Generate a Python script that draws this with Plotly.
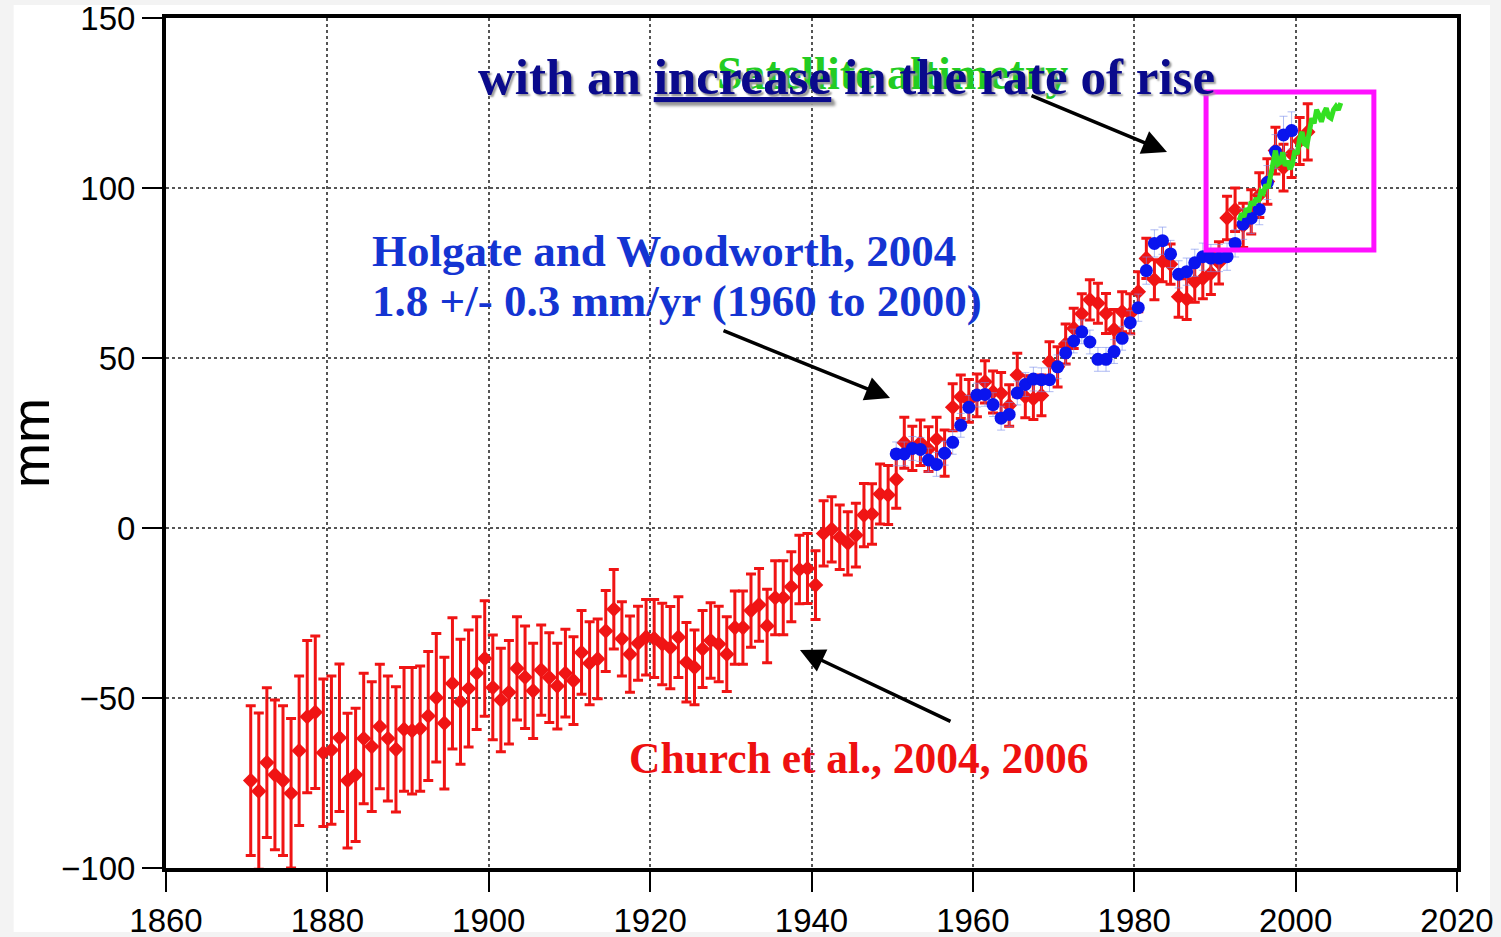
import plotly.graph_objects as go

# Tide-gauge reconstruction (Church et al.), annual means, mm
church_years = list(range(1870, 2002))
church_mm = [
    -74.3, -77.4, -69.0, -72.6, -74.3, -78.0, -65.5, -55.5, -54.2, -66.1,
    -65.3, -61.7, -74.3, -72.6, -61.9, -64.3, -58.4, -61.9, -65.1, -59.2,
    -59.6, -59.0, -55.3, -49.9, -57.4, -45.7, -51.1, -47.2, -42.7, -38.4,
    -46.9, -50.6, -48.3, -41.3, -43.9, -47.9, -41.8, -44.0, -46.5, -42.7,
    -44.9, -36.6, -39.8, -38.5, -30.3, -23.9, -32.6, -37.1, -33.9, -32.1,
    -32.5, -34.1, -35.2, -32.1, -39.5, -41.0, -35.6, -33.1, -34.1, -37.1,
    -29.3, -29.3, -24.3, -22.6, -28.8, -20.5, -20.5, -17.3, -12.2, -11.9,
    -16.8, -1.6, -0.4, -2.7, -4.5, -2.1, 3.8, 4.1, 10.0, 9.7,
    14.3, 25.1, 23.4, 25.1, 23.2, 26.1, 22.0, 35.5, 38.6, 37.4,
    39.0, 43.0, 40.0, 39.6, 36.0, 45.0, 38.6, 38.0, 39.0, 48.9,
    47.4, 54.1, 58.7, 63.0, 67.1, 66.1, 63.1, 58.4, 63.6, 63.0,
    69.5, 79.3, 73.0, 78.3, 77.6, 68.0, 67.3, 72.4, 73.4, 74.9,
    78.0, 91.2, 93.6, 89.0, 93.0, 97.9, 101.9, 111.0, 106.0, 110.0,
    113.8, 116.5,
]
church_err = [
    22.0, 23.0, 22.0, 22.0, 22.0, 22.0, 22.0, 22.4, 22.4, 21.7,
    21.8, 21.7, 19.8, 19.6, 19.2, 19.1, 18.3, 18.4, 18.4, 18.2,
    18.6, 18.4, 19.0, 18.9, 19.4, 19.3, 18.4, 17.2, 16.6, 17.0,
    15.4, 15.2, 15.2, 15.2, 15.1, 14.0, 13.3, 13.2, 12.6, 12.9,
    12.9, 12.3, 12.2, 11.7, 11.9, 11.7, 10.9, 11.2, 10.9, 11.1,
    11.5, 12.0, 12.1, 11.9, 11.7, 11.0, 11.3, 11.1, 11.1, 11.0,
    10.8, 10.8, 10.8, 10.7, 10.8, 10.9, 10.9, 10.3, 10.1, 10.3,
    10.1, 9.6, 9.6, 9.5, 9.3, 9.4, 9.3, 8.9, 8.8, 8.7,
    8.5, 7.5, 6.5, 6.7, 6.6, 6.5, 6.8, 6.9, 6.4, 6.3,
    6.3, 6.2, 6.2, 6.1, 6.1, 6.4, 6.2, 6.1, 6.0, 5.9,
    5.9, 5.9, 5.9, 5.9, 5.9, 5.9, 5.9, 5.9, 5.9, 5.9,
    5.9, 5.9, 5.9, 5.9, 5.9, 6.0, 6.0, 6.0, 6.0, 6.2,
    6.2, 6.4, 6.4, 6.5, 6.5, 6.6, 6.7, 6.9, 6.9, 6.9,
    6.9, 8.3,
]

# Holgate and Woodworth (2004) reconstruction, mm
hw_years = list(range(1950, 2000))
hw_mm = [
    21.8, 21.8, 23.4, 23.1, 20.0, 18.7, 22.0, 25.2, 30.2, 35.5,
    39.1, 39.3, 36.3, 32.3, 33.4, 39.7, 42.2, 43.8, 43.6, 43.6,
    47.4, 51.5, 55.0, 57.7, 54.7, 49.6, 49.6, 51.9, 55.8, 60.4,
    64.8, 75.7, 83.7, 84.5, 80.6, 74.6, 75.4, 78.0, 79.8, 79.4,
    79.4, 79.8, 83.7, 89.4, 91.1, 93.7, 101.6, 110.7, 115.6, 116.9,
]
hw_err = [
    3.5, 3.5, 3.5, 3.5, 3.5, 3.5, 3.5, 3.5, 3.5, 3.5,
    3.5, 3.5, 3.5, 3.5, 3.5, 3.5, 3.5, 3.5, 3.5, 3.5,
    3.5, 3.5, 3.5, 3.5, 3.5, 3.5, 3.5, 3.5, 3.5, 3.5,
    4.0, 4.0, 4.0, 4.0, 4.0, 4.0, 4.0, 4.0, 4.0, 4.0,
    4.0, 4.0, 4.0, 4.5, 4.5, 4.5, 5.0, 5.0, 5.5, 5.5,
]

# Satellite altimetry (TOPEX/Poseidon, Jason-1), mm
sat_time = [
    1993.0, 1993.3, 1993.6, 1993.9, 1994.2, 1994.5, 1994.8, 1995.1, 1995.4, 1995.7,
    1996.0, 1996.3, 1996.6, 1996.9, 1997.2, 1997.5, 1997.8, 1998.1, 1998.4, 1998.7,
    1999.0, 1999.3, 1999.6, 1999.9, 2000.2, 2000.5, 2000.8, 2001.1, 2001.4, 2001.7,
    2002.0, 2002.3, 2002.6, 2002.9, 2003.2, 2003.5, 2003.8, 2004.1, 2004.4, 2004.7,
    2005.0, 2005.3, 2005.6,
]
sat_mm = [
    90.5, 92.5, 91.5, 94.0, 93.0, 96.0, 95.0, 97.0, 96.0, 99.0,
    98.5, 101.0, 100.0, 104.0, 108.0, 111.0, 107.0, 107.5, 110.5, 106.5,
    108.0, 105.5, 107.0, 111.0, 110.0, 114.5, 116.5, 113.0, 112.5, 117.0,
    120.5, 119.0, 123.0, 121.5, 119.5, 122.0, 123.5, 121.0, 120.5, 123.0,
    124.0, 123.0, 125.0,
]

x_ticks = [1860, 1880, 1900, 1920, 1940, 1960, 1980, 2000, 2020]
y_ticks = [-100, -50, 0, 50, 100, 150]

RED = "#f01414"
BLUE = "#0a14ee"
GREEN = "#33e022"
NAVY = "#0a0a8c"
SERIF = "Liberation Serif"
SANS = "Liberation Sans, Arial, sans-serif"

fig = go.Figure()

fig.add_trace(go.Scatter(
    x=[y + 0.5 for y in church_years], y=church_mm,
    mode="markers",
    marker=dict(symbol="diamond", size=12, color=RED),
    error_y=dict(type="data", array=church_err, visible=True,
                 color=RED, thickness=3, width=5),
    showlegend=False,
))

fig.add_trace(go.Scatter(
    x=[y + 0.5 for y in hw_years], y=hw_mm,
    mode="markers",
    marker=dict(symbol="circle", size=13, color=BLUE),
    error_y=dict(type="data", array=hw_err, visible=True,
                 color="rgba(120,140,235,0.6)", thickness=1, width=4),
    showlegend=False,
))

fig.add_trace(go.Scatter(
    x=sat_time, y=sat_mm,
    mode="lines",
    line=dict(color=GREEN, width=5),
    showlegend=False,
))

annotations = [
    dict(x=1950.1, y=133.8, text="<b>Satellite altimetry</b>", showarrow=False,
         xanchor="center", yanchor="middle",
         font=dict(family=SERIF, size=46, color="#22cc22")),
    dict(x=1944.3, y=132.6, text="<b>with an <u>increase</u> in the rate of rise</b>",
         showarrow=False, xanchor="center", yanchor="middle",
         font=dict(family=SERIF, size=51, color=NAVY, shadow="2px 2px 2px #9a9a9a")),
    dict(x=1885.3, y=81.5, text="<b>Holgate and Woodworth, 2004</b>", showarrow=False,
         xanchor="left", yanchor="middle",
         font=dict(family=SERIF, size=45, color="#1434d2")),
    dict(x=1885.3, y=66.8, text="<b>1.8 +/- 0.3 mm/yr (1960 to 2000)</b>", showarrow=False,
         xanchor="left", yanchor="middle",
         font=dict(family=SERIF, size=45, color="#1434d2")),
    dict(x=1945.9, y=-67.6, text="<b>Church et al., 2004, 2006</b>", showarrow=False,
         xanchor="center", yanchor="middle",
         font=dict(family=SERIF, size=43.5, color="#ee1010")),
]

# pointer arrows: head at (x, y), tail offset (ax, ay) in pixels
for hx, hy, ax, ay in [(1984.06, 110.6, -137, -57),
                       (1949.73, 38.2, -168, -68),
                       (1938.57, -35.9, 152, 72)]:
    annotations.append(dict(
        x=hx, y=hy, ax=ax, ay=ay, text="", showarrow=True,
        arrowhead=2, arrowsize=1.4, arrowwidth=3.5, arrowcolor="black",
        standoff=0, startstandoff=0,
    ))

fig.update_layout(
    width=1501, height=937,
    margin=dict(l=166, r=44, t=18, b=69, autoexpand=False),
    paper_bgcolor="#f3f3f3",
    plot_bgcolor="white",
    annotations=annotations,
    shapes=[
        dict(type="rect", xref="paper", yref="paper",
             x0=-0.118, x1=1.0256, y0=-0.0753, y1=1.0153,
             fillcolor="white", line=dict(width=0), layer="below"),
        dict(type="rect", xref="x", yref="y",
             x0=1988.9, x1=2009.7, y0=81.8, y1=128.2,
             line=dict(color="#ff10ff", width=5), fillcolor="rgba(0,0,0,0)"),
    ],
)

fig.update_xaxes(
    range=[1859.999, 2020.001], tickvals=x_ticks, ticktext=[str(v) for v in x_ticks],
    showgrid=True, gridcolor="#555555", griddash="dot", gridwidth=1.5,
    zeroline=False, showline=True, linecolor="black", linewidth=4, mirror=True,
    ticks="outside", ticklen=20, tickwidth=1.5, tickcolor="black",
    tickfont=dict(family=SANS, size=33, color="black"), automargin=False,
    ticklabeloverflow="allow",
)
fig.update_yaxes(
    range=[-100.001, 150.001], tickvals=y_ticks,
    ticktext=[str(v).replace("-", "\u2212") for v in y_ticks],
    showgrid=True, gridcolor="#555555", griddash="dot", gridwidth=1.5,
    zeroline=False, showline=True, linecolor="black", linewidth=4, mirror=True,
    ticks="outside", ticklen=20, tickwidth=1.5, tickcolor="black",
    tickfont=dict(family=SANS, size=33, color="black"), automargin=False,
    ticklabeloverflow="allow",
    title=dict(text="mm", font=dict(family=SANS, size=54, color="black"), standoff=14),
)

fig.write_html("out.html")
